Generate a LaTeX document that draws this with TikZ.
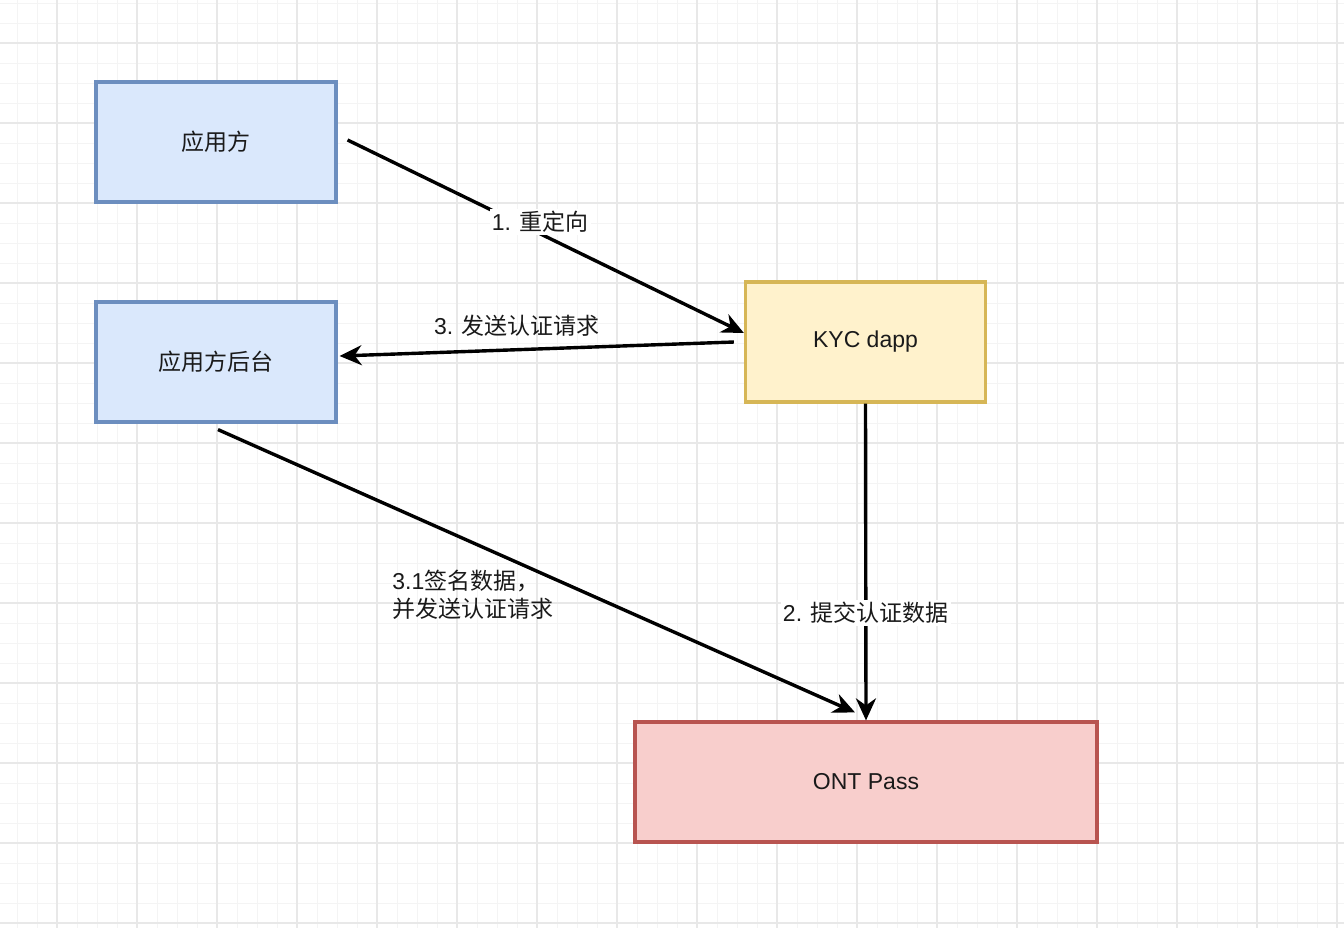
\documentclass[tikz,border=0pt]{standalone}
\usepackage{fontspec}
\setmainfont{Liberation Sans}
\newfontfamily\cjk{Noto Sans CJK SC}
\usetikzlibrary{arrows.meta, positioning, calc}

\definecolor{bluefill}{HTML}{DAE8FC}
\definecolor{blueline}{HTML}{6C8EBF}
\definecolor{yellowfill}{HTML}{FFF2CC}
\definecolor{yellowline}{HTML}{D6B656}
\definecolor{redfill}{HTML}{F8CECC}
\definecolor{redline}{HTML}{B85450}
\definecolor{minorgrid}{HTML}{F4F4F4}
\definecolor{majorgrid}{HTML}{E8E8E8}
\definecolor{ink}{HTML}{1A1A1A}

\tikzset{
  box/.style={draw, rectangle, line width=1.6pt, minimum width=120pt, minimum height=60pt, inner sep=0pt, text=ink},
  flow/.style={-{Stealth[length=11pt, width=10pt, inset=3.5pt]}, line width=1.7pt, black},
  lbl/.style={fill=white, inner sep=1pt, text=ink}
}

\begin{document}
\begin{tikzpicture}[x=0.5pt, y=-0.5pt, font=\fontsize{11.5}{14}\selectfont]
\useasboundingbox (0,0) rectangle (1344,928);
\fill[white] (0,0) rectangle (1344,928);
% Background grid
\foreach \x in {17,37,...,1337} \draw[minorgrid, line width=0.5pt] (\x,0) -- (\x,928);
\foreach \y in {3,23,...,923} \draw[minorgrid, line width=0.5pt] (0,\y) -- (1344,\y);
\foreach \x in {57,137,...,1337} \draw[majorgrid, line width=0.6pt] (\x,0) -- (\x,928);
\foreach \y in {43,123,...,923} \draw[majorgrid, line width=0.6pt] (0,\y) -- (1344,\y);

% Parties
\node[box, fill=bluefill, draw=blueline] (app) at (216,142) {{\cjk 应用方}};
\node[box, fill=bluefill, draw=blueline] (backend) at (216,362) {{\cjk 应用方后台}};
\node[box, fill=yellowfill, draw=yellowline] (kyc) at (865.5,342) {KYC dapp};
\node[box, fill=redfill, draw=redline, minimum width=231pt] (ont) at (866,782) {ONT Pass};

% Arrows
\draw[flow] ($(app.east)+(10,-2)$) -- ($(kyc.west)+(0,-9)$)
  node[lbl, pos=0.486, yshift=6pt] {1. {\cjk 重定向}};
\draw[flow] ($(kyc.west)+(-10,0)$) -- ($(backend.east)+(2,-6)$)
  node[text=ink, pos=0.55, yshift=12pt] {3. {\cjk 发送认证请求}};
\draw[flow] (kyc.south) -- (ont.north)
  node[lbl, pos=0.661] {2. {\cjk 提交认证数据}};
\draw[flow] ($(backend.south)+(2,6)$) -- ($(ont.north)+(-11,-8)$);

% Side note
\node[anchor=west, align=left, text=ink, inner sep=0pt] (sign) at (392,595) {3.1{\cjk 签名数据，}\\{\cjk 并发送认证请求}};
\end{tikzpicture}
\end{document}
